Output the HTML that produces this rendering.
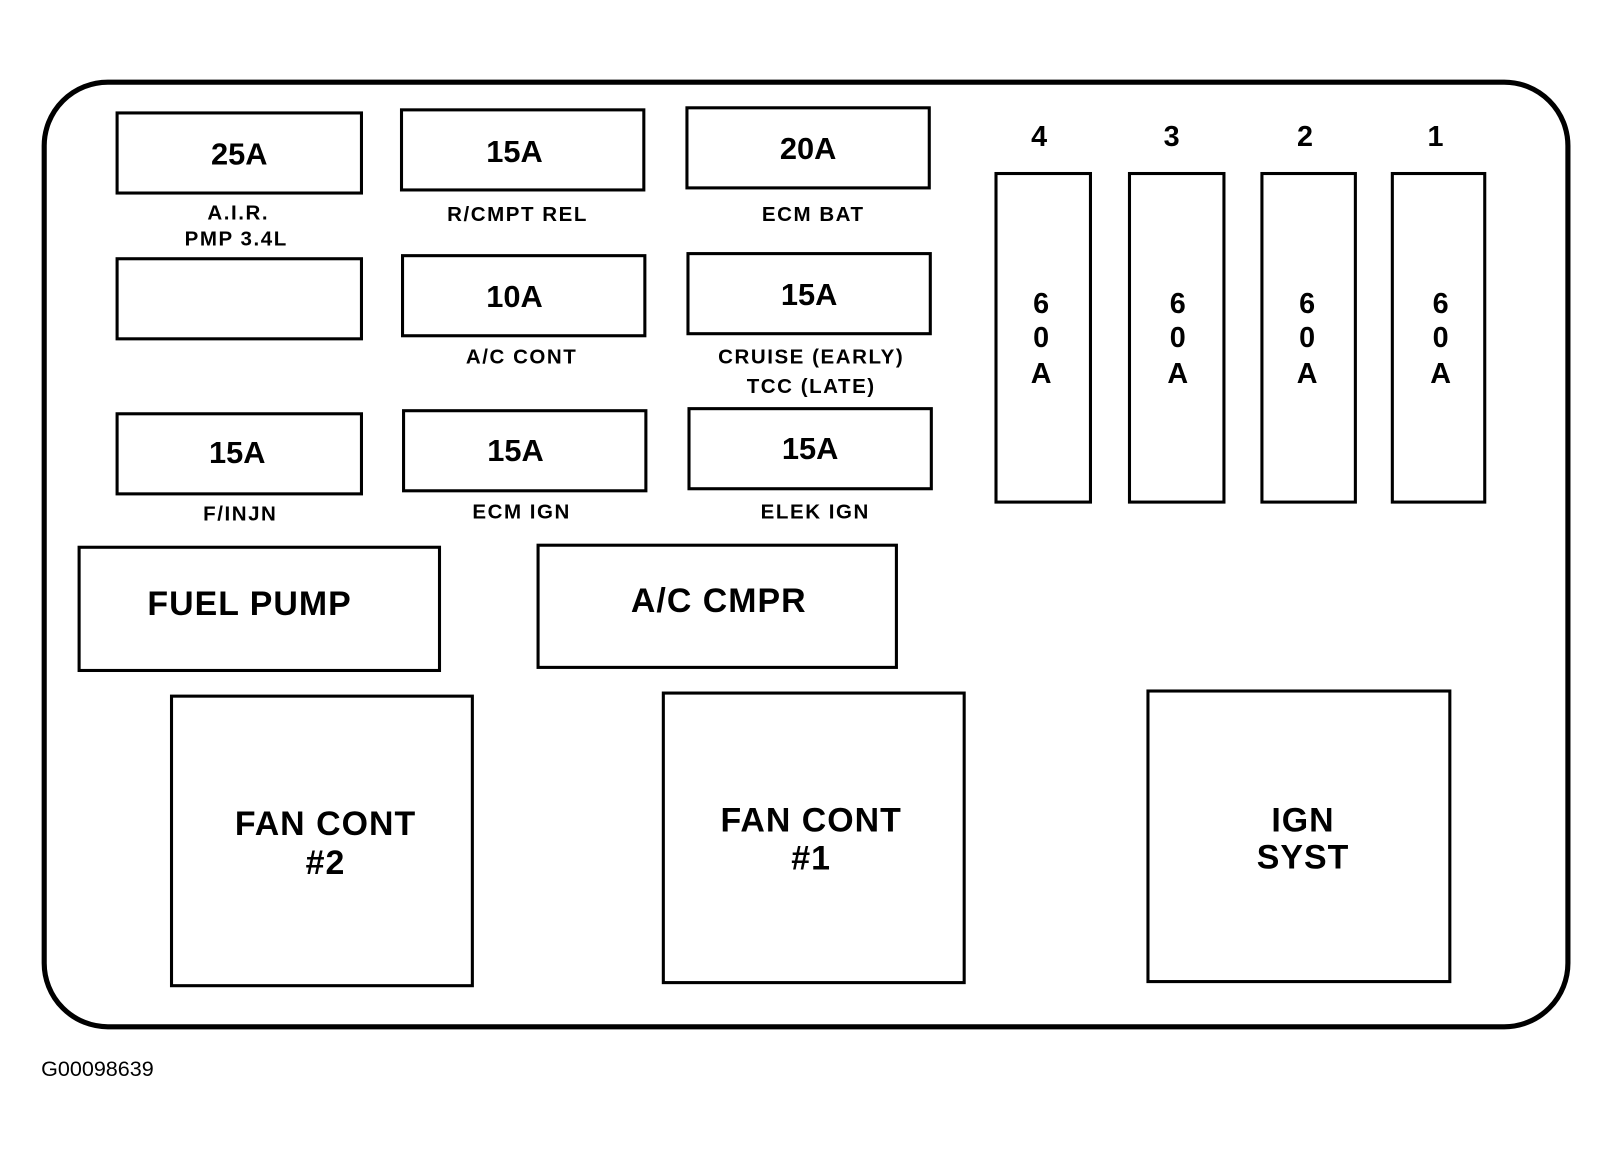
<!DOCTYPE html>
<html><head><meta charset="utf-8"><style>
html,body{margin:0;padding:0;background:#fff}
svg{display:block}
text{font-family:"Liberation Sans",sans-serif;font-weight:bold;fill:#000;text-anchor:middle}
</style></head><body>
<svg width="1608" height="1151" viewBox="0 0 1566 1121" xmlns="http://www.w3.org/2000/svg">
<g fill="none" stroke="#000">
<rect x="43" y="80" width="1484" height="920" rx="62" stroke-width="5"/>
<g stroke-width="3">
<rect x="114" y="110" width="238" height="78"/>
<rect x="391" y="107" width="236" height="78"/>
<rect x="669" y="105" width="236" height="78"/>
<rect x="114" y="252" width="238" height="78"/>
<rect x="392" y="249" width="236" height="78"/>
<rect x="670" y="247" width="236" height="78"/>
<rect x="114" y="403" width="238" height="78"/>
<rect x="393" y="400" width="236" height="78"/>
<rect x="671" y="398" width="236" height="78"/>
<rect x="970" y="169" width="92" height="320"/>
<rect x="1100" y="169" width="92" height="320"/>
<rect x="1229" y="169" width="91" height="320"/>
<rect x="1356" y="169" width="90" height="320"/>
<rect x="77" y="533" width="351" height="120"/>
<rect x="524" y="531" width="349" height="119"/>
<rect x="167" y="678" width="293" height="282"/>
<rect x="646" y="675" width="293" height="282"/>
<rect x="1118" y="673" width="294" height="283"/>
</g></g>
<g font-size="30">
<text x="233" y="160">25A</text>
<text x="501" y="158">15A</text>
<text x="787" y="155">20A</text>
<text x="501" y="299">10A</text>
<text x="788" y="297">15A</text>
<text x="231" y="451">15A</text>
<text x="502" y="449">15A</text>
<text x="789" y="447">15A</text>
</g>
<g font-size="20" letter-spacing="1.5">
<text x="232" y="214">A.I.R.</text>
<text x="230" y="239">PMP 3.4L</text>
<text x="504" y="215">R/CMPT REL</text>
<text x="792" y="215">ECM BAT</text>
<text x="508" y="354">A/C CONT</text>
<text x="790" y="354">CRUISE (EARLY)</text>
<text x="790" y="383">TCC (LATE)</text>
<text x="234" y="507">F/INJN</text>
<text x="508" y="505">ECM IGN</text>
<text x="794" y="505">ELEK IGN</text>
</g>
<g font-size="28">
<text x="1012" y="142">4</text><text x="1141" y="142">3</text><text x="1271" y="142">2</text><text x="1398" y="142">1</text>
<text x="1014" y="305">6</text><text x="1014" y="338">0</text><text x="1014" y="373">A</text>
<text x="1147" y="305">6</text><text x="1147" y="338">0</text><text x="1147" y="373">A</text>
<text x="1273" y="305">6</text><text x="1273" y="338">0</text><text x="1273" y="373">A</text>
<text x="1403" y="305">6</text><text x="1403" y="338">0</text><text x="1403" y="373">A</text>
</g>
<g font-size="33" letter-spacing="1">
<text x="243" y="599">FUEL PUMP</text>
<text x="700" y="596">A/C CMPR</text>
<text x="317" y="813">FAN CONT</text>
<text x="317" y="851">#2</text>
<text x="790" y="810">FAN CONT</text>
<text x="790" y="847">#1</text>
<text x="1269" y="810">IGN</text>
<text x="1269" y="846">SYST</text>
</g>
<text x="40" y="1048" font-size="21" style="font-weight:normal;text-anchor:start">G00098639</text>
</svg>
</body></html>
